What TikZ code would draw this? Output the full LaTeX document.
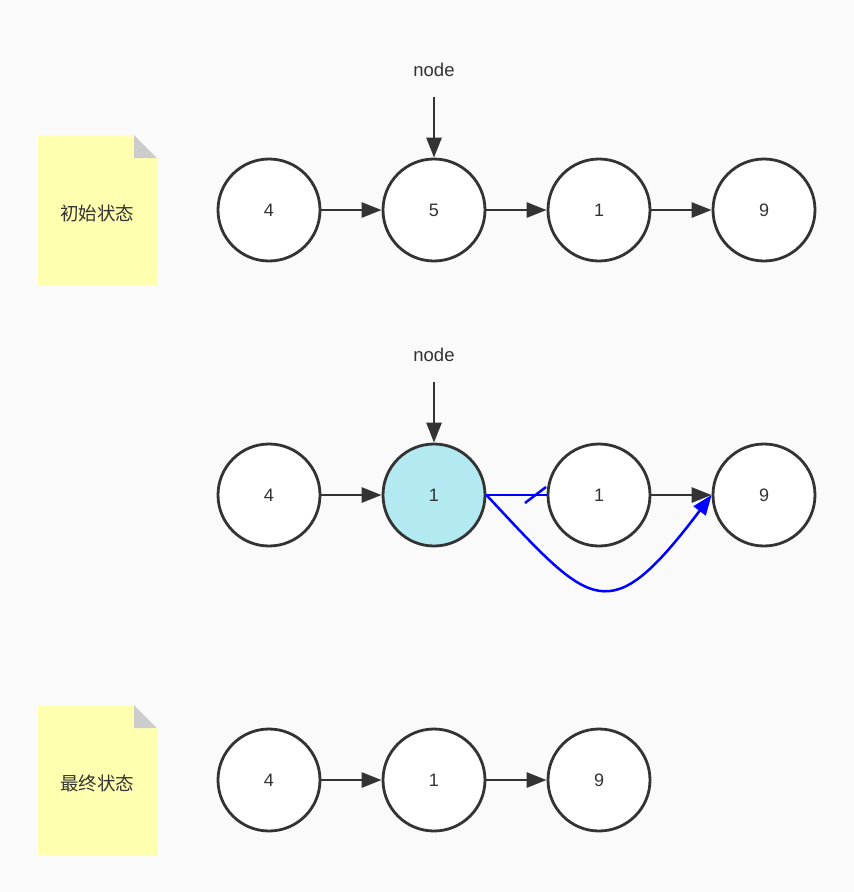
\documentclass[tikz,border=0pt]{standalone}
\usepackage{fontspec}
\setmainfont{Liberation Sans}
\newfontfamily\cjk{Noto Sans CJK SC}
\usetikzlibrary{arrows.meta}
\definecolor{bg}{HTML}{FAFAFA}
\definecolor{ink}{HTML}{333333}
\definecolor{notey}{HTML}{FFFFB0}
\definecolor{fold}{HTML}{CCCCCC}
\definecolor{cyanfill}{HTML}{B3EAF2}
\tikzset{
  circ/.style={circle,draw=ink,line width=2.8pt,fill=white,minimum size=102pt,inner sep=0pt,font=\fontsize{18}{21}\selectfont,text=ink},
  link/.style={draw=ink,line width=2.8pt,-{Triangle[length=20pt,width=15pt]}},
  bluelink/.style={draw=blue,line width=2.5pt},
  lbl/.style={font=\fontsize{18.5}{22}\selectfont,text=ink},
  notetext/.style={font=\cjk\fontsize{18.5}{22}\selectfont,text=ink}
}
\begin{document}
\begin{tikzpicture}[x=1pt,y=-1pt]
\useasboundingbox[fill=bg] (0,0) rectangle (854,892);
% notes
\foreach \y/\t/\n in {135/初始状态/noteA,705/最终状态/noteB}{
  \fill[notey] (38,\y) -- (134,\y) -- (157,\y+23) -- (157,\y+150) -- (38,\y+150) -- cycle;
  \fill[fold] (134,\y) -- (157,\y+23) -- (134,\y+23) -- cycle;
  \node[notetext] (\n) at (97,\y+78) {\t};
}
% row 1
\node[circ] (a1) at (269,210) {4};
\node[circ] (a2) at (434,210) {5};
\node[circ] (a3) at (599,210) {1};
\node[circ] (a4) at (764,210) {9};
\node[lbl] (p1) at (434,70) {node};
\coordinate (p1s) at (434,97);
\draw[link] (p1s) -- (a2.north);
\draw[link] (a1) -- (a2);
\draw[link] (a2) -- (a3);
\draw[link] (a3) -- (a4);
% row 2
\node[circ] (b1) at (269,495) {4};
\node[circ,fill=cyanfill] (b2) at (434,495) {1};
\node[circ] (b3) at (599,495) {1};
\node[circ] (b4) at (764,495) {9};
\node[lbl] (p2) at (434,355) {node};
\coordinate (p2s) at (434,382);
\draw[link] (p2s) -- (b2.north);
\draw[link] (b1) -- (b2);
\draw[link] (b3) -- (b4);
\draw[bluelink] (b2.east) -- (b3.west);
\coordinate (x1) at (525,503);
\coordinate (x2) at (546,487);
\draw[bluelink] (x1) -- (x2);
\draw[bluelink,-{Triangle[length=20pt,width=15pt]}] (b2.east) .. controls (592,608) and (608,632) .. (b4.west);
% row 3
\node[circ] (c1) at (269,780) {4};
\node[circ] (c2) at (434,780) {1};
\node[circ] (c3) at (599,780) {9};
\draw[link] (c1) -- (c2);
\draw[link] (c2) -- (c3);
\end{tikzpicture}
\end{document}
